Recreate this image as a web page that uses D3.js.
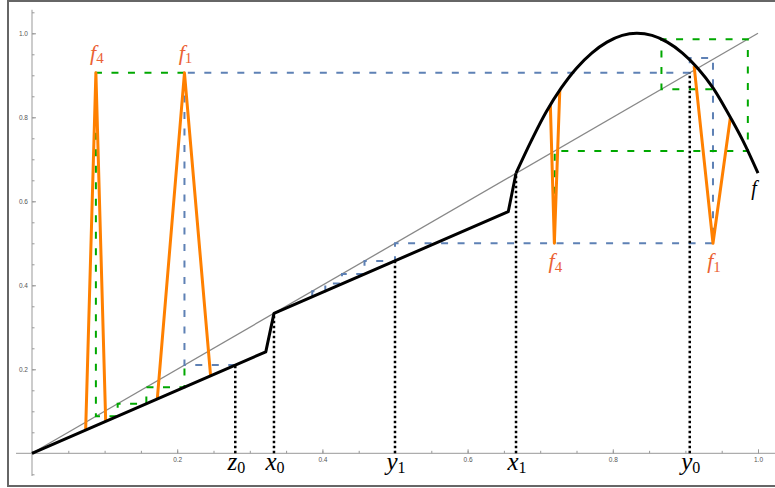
<!DOCTYPE html>
<html>
<head>
<meta charset="utf-8">
<script src="https://cdn.jsdelivr.net/npm/d3@7"></script>
<style>
  body { margin: 0; background: #fff; }
  svg { display: block; }
</style>
</head>
<body>
<svg id="chart" width="775" height="488"></svg>
<script>
// Cobweb / renormalisation picture: piecewise-linear map glued to a parabola cap,
// orange spikes f1, f4, blue and green dashed orbits, dotted marker lines.

// ----- data -----
const fPiecewise = [[0, 0], [0.322, 0.2415], [0.3333, 0.3333], [0.656, 0.5753], [0.6667, 0.6667]];
const fCap = [
    [0.6667, 0.667], [0.688, 0.745], [0.708, 0.812], [0.729, 0.870], [0.75, 0.917],
    [0.771, 0.953], [0.792, 0.979], [0.813, 0.995], [0.833, 1.0], [0.854, 0.995],
    [0.875, 0.979], [0.896, 0.953], [0.917, 0.917], [0.938, 0.870], [0.958, 0.812],
    [0.979, 0.745], [1.0, 0.667]
];
const diagonal = [[0, 0], [1, 1]];

const blueOrbit = [
    [0.28, 0.21], [0.21, 0.21], [0.21, 0.906], [0.906, 0.906], [0.906, 0.941],
    [0.938, 0.941], [0.938, 0.5], [0.5, 0.5], [0.5, 0.458], [0.458, 0.458],
    [0.458, 0.427], [0.427, 0.427], [0.427, 0.404], [0.404, 0.404], [0.404, 0.386],
    [0.386, 0.386], [0.386, 0.373]
];
const greenLeft = [
    [0.21, 0.906], [0.088, 0.906], [0.088, 0.0885], [0.118, 0.0885], [0.118, 0.118],
    [0.1575, 0.118], [0.1575, 0.1575], [0.21, 0.1575], [0.21, 0.21]
];
const greenRight = [
    [0.72, 0.5], [0.72, 0.72], [0.986, 0.72], [0.986, 0.986], [0.867, 0.986],
    [0.867, 0.867], [0.938, 0.867]
];

const f4Left = [[0.0739, 0.0554], [0.088, 0.906], [0.1015, 0.0761]];
const f1Left = [[0.1726, 0.1295], [0.21, 0.906], [0.246, 0.1845]];
const f4Right = [[0.714, 0.828], [0.7195, 0.5], [0.727, 0.865]];
const f1Right = [[0.912, 0.922], [0.938, 0.5], [0.962, 0.80]];
const spikes = [f4Left, f1Left, f4Right, f1Right];

const spikeLabelX = [0.088, 0.21, 0.7195, 0.938];
const spikeLabelY = [0.906, 0.906, 0.5, 0.5];
const spikeLabelSub = ['4', '1', '4', '1'];
const spikeLabelSide = ['above', 'above', 'below', 'below'];

const markerX = [0.28, 0.3333, 0.5, 0.6667, 0.906];
const markerTop = [0.21, 0.3333, 0.458, 0.6667, 0.906];
const markerName = ['z', 'x', 'y', 'x', 'y'];
const markerSub = ['0', '0', '1', '1', '0'];

const majorTicks = [0.2, 0.4, 0.6, 0.8, 1.0];
const minorTicks = d3.range(-1, 22).map((i) => +(i * 0.05).toFixed(2));
const xExtent = [-0.022, 1.025];
const yExtent = [-0.054, 1.056];

// ----- colours -----
const BLUE = '#5e81b5';
const GREEN = '#00a800';
const ORANGE = '#ff8000';
const LABEL_ORANGE = '#eb6235';
const SERIF = '"Liberation Serif", "DejaVu Serif", serif';

const svg = d3.select('#chart');
const x = d3.scaleLinear().domain([0, 1]).range([32, 758]);
const y = d3.scaleLinear().domain([0, 1]).range([453.3, 33.3]);
const line = d3.line().x((d) => x(d[0])).y((d) => y(d[1]));

// window frame
svg.append('rect')
    .attr('x', 8).attr('y', 1).attr('width', 800).attr('height', 485)
    .attr('fill', 'none').attr('stroke', '#666').attr('stroke-width', 2);

// ----- axes crossing at the origin -----
const gx = svg.append('g').attr('transform', `translate(0,${y(0)})`);
gx.append('g')
    .call(d3.axisBottom(x).tickValues(minorTicks.filter((t) => t >= 0 && t <= 1.02))
        .tickSize(-2.5).tickFormat(''))
    .call((g) => g.select('.domain').remove());
gx.append('g')
    .call(d3.axisBottom(x).tickValues(majorTicks).tickSize(-4).tickPadding(4)
        .tickFormat(d3.format('.1f')))
    .call((g) => g.select('.domain').remove());
gx.append('line')
    .attr('x1', x(xExtent[0])).attr('x2', x(xExtent[1]));

const gy = svg.append('g').attr('transform', `translate(${x(0)},0)`);
gy.append('g')
    .call(d3.axisLeft(y).tickValues(minorTicks).tickSize(-2.5).tickFormat(''))
    .call((g) => g.select('.domain').remove());
gy.append('g')
    .call(d3.axisLeft(y).tickValues(majorTicks).tickSize(-4).tickPadding(4)
        .tickFormat(d3.format('.1f')))
    .call((g) => g.select('.domain').remove());
gy.append('line')
    .attr('y1', y(yExtent[0])).attr('y2', y(yExtent[1]));

svg.selectAll('.tick line').attr('stroke', '#999');
svg.selectAll('.tick text')
    .attr('fill', '#555').attr('font-size', 6.5)
    .attr('font-family', '"Liberation Sans", Arial, sans-serif');
svg.selectAll('g > line').attr('stroke', '#999').attr('stroke-width', 1);

// ----- marks -----
svg.append('path').datum(diagonal).attr('d', line)
    .attr('fill', 'none').attr('stroke', '#888').attr('stroke-width', 1.3);

const dashed = (data, color) => svg.append('path').datum(data).attr('d', line)
    .attr('fill', 'none').attr('stroke', color).attr('stroke-width', 2)
    .attr('stroke-dasharray', '7,9.5');
dashed(blueOrbit, BLUE);
dashed(greenLeft, GREEN);
dashed(greenRight, GREEN);

svg.append('g').selectAll('line')
    .data(markerX)
    .join('line')
    .attr('x1', (d) => x(d)).attr('x2', (d) => x(d))
    .attr('y1', y(0)).attr('y2', (d, i) => y(markerTop[i]))
    .attr('stroke', '#000').attr('stroke-width', 2.5)
    .attr('stroke-dasharray', '2.5,2.5');

svg.append('g').selectAll('path')
    .data(spikes)
    .join('path')
    .attr('d', line)
    .attr('fill', 'none').attr('stroke', ORANGE).attr('stroke-width', 3)
    .attr('stroke-linejoin', 'round');

svg.append('path').datum(fPiecewise).attr('d', line)
    .attr('fill', 'none').attr('stroke', '#000').attr('stroke-width', 3)
    .attr('stroke-linejoin', 'round');
svg.append('path').datum(fCap).attr('d', line.curve(d3.curveCatmullRom))
    .attr('fill', 'none').attr('stroke', '#000').attr('stroke-width', 3);

// ----- labels -----
const markerLabels = svg.append('g').selectAll('text')
    .data(markerX)
    .join('text')
    .attr('x', (d) => x(d) + 1).attr('y', y(0) + 17)
    .attr('text-anchor', 'middle')
    .attr('font-family', SERIF).attr('font-style', 'italic').attr('fill', '#000');
markerLabels.append('tspan').attr('font-size', 25).text((d, i) => markerName[i]);
markerLabels.append('tspan').attr('font-size', 16).attr('font-style', 'normal')
    .attr('dy', 3).text((d, i) => markerSub[i]);

const spikeLabels = svg.append('g').selectAll('text')
    .data(spikeLabelX)
    .join('text')
    .attr('x', (d) => x(d) + 1)
    .attr('y', (d, i) => y(spikeLabelY[i]) + (spikeLabelSide[i] === 'above' ? -13 : 25))
    .attr('text-anchor', 'middle')
    .attr('font-family', SERIF).attr('fill', LABEL_ORANGE);
spikeLabels.append('tspan').attr('font-size', 22).attr('font-style', 'italic').text('f');
spikeLabels.append('tspan').attr('font-size', 15).attr('dy', 3.5)
    .text((d, i) => spikeLabelSub[i]);

svg.append('text')
    .attr('x', x(1) - 4).attr('y', y(0.667) + 22)
    .attr('text-anchor', 'middle')
    .attr('font-family', SERIF).attr('font-style', 'italic').attr('font-size', 20)
    .text('f');
</script>
</body>
</html>
